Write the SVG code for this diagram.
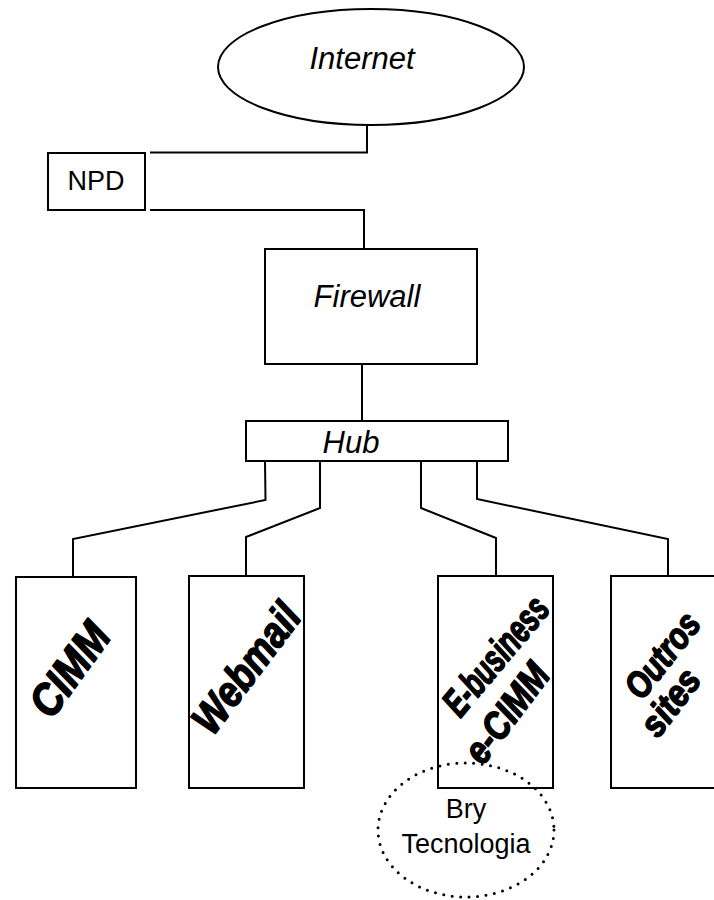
<svg xmlns="http://www.w3.org/2000/svg" width="714" height="900" viewBox="0 0 714 900">
  <style>
    .box { fill: #fff; stroke: #000; stroke-width: 2; }
    .wire { fill: none; stroke: #000; stroke-width: 2; }
    .lbl { font-family: "Liberation Sans", Arial, sans-serif; fill: #000; text-anchor: middle; }
    .it { font-style: italic; }
    .art { font-family: "Liberation Sans", Arial, sans-serif; font-style: italic; font-weight: bold; text-anchor: middle; fill: #000; stroke: #000; stroke-width: 1.6; stroke-linejoin: round; }
    .dots { fill: none; stroke: #000; stroke-width: 3; stroke-linecap: round; stroke-dasharray: 0 8.5; }
  </style>
  <rect width="714" height="900" fill="#fff"/>

  <!-- connectors -->
  <g id="connectors">
    <polyline class="wire" points="367,125 367,152.5 150,152.5"/>
    <polyline class="wire" points="150,210 364,210 364,249"/>
    <line class="wire" x1="362" y1="364" x2="362" y2="421"/>
    <polyline class="wire" points="265,461 265.5,500 73,539 73,577"/>
    <polyline class="wire" points="320,461 320,508 246,537 246,576"/>
    <polyline class="wire" points="421,461 421,508 496,538 496,576"/>
    <polyline class="wire" points="477,461 477,499 668,539 668,576"/>
  </g>

  <g id="internet">
    <ellipse class="box" cx="371" cy="67" rx="153" ry="58"/>
    <text class="lbl it" x="362" y="69" font-size="31">Internet</text>
  </g>

  <g id="npd">
    <rect class="box" x="48" y="153" width="97" height="57"/>
    <text class="lbl" x="96" y="190" font-size="27">NPD</text>
  </g>

  <g id="firewall">
    <rect class="box" x="265" y="249" width="212" height="115"/>
    <text class="lbl it" x="367" y="307" font-size="31">Firewall</text>
  </g>

  <g id="hub">
    <rect class="box" x="246" y="421" width="262" height="40"/>
    <text class="lbl it" x="351" y="453" font-size="31">Hub</text>
  </g>

  <!-- server boxes with slanted heavy labels -->
  <g id="cimm">
    <rect class="box" x="16" y="577" width="120" height="211"/>
    <text class="art" transform="translate(69,669) rotate(-54)" y="16" font-size="45" textLength="104" lengthAdjust="spacingAndGlyphs">CIMM</text>
  </g>

  <g id="webmail">
    <rect class="box" x="189" y="576" width="115" height="212"/>
    <text class="art" transform="translate(246,668) rotate(-53)" y="15" font-size="43" textLength="150" lengthAdjust="spacingAndGlyphs">Webmail</text>
  </g>

  <g id="ebusiness">
    <rect class="box" x="438" y="576" width="115" height="212"/>
    <text class="art" transform="translate(496,656) rotate(-50)" y="13" font-size="39" textLength="142" lengthAdjust="spacingAndGlyphs">E-business</text>
    <text class="art" transform="translate(507,713) rotate(-53)" y="13" font-size="39" textLength="114" lengthAdjust="spacingAndGlyphs">e-CIMM</text>
  </g>

  <g id="outros">
    <rect class="box" x="611" y="576" width="115" height="212"/>
    <text class="art" transform="translate(662,655) rotate(-52)" y="13" font-size="37" textLength="98" lengthAdjust="spacingAndGlyphs">Outros</text>
    <text class="art" transform="translate(670,702) rotate(-53)" y="13" font-size="37" textLength="74" lengthAdjust="spacingAndGlyphs">sites</text>
  </g>

  <g id="bry">
    <ellipse class="dots" cx="466" cy="830" rx="88" ry="67"/>
    <text class="lbl" x="466" y="818" font-size="27">Bry</text>
    <text class="lbl" x="466" y="853" font-size="27">Tecnologia</text>
  </g>
</svg>
